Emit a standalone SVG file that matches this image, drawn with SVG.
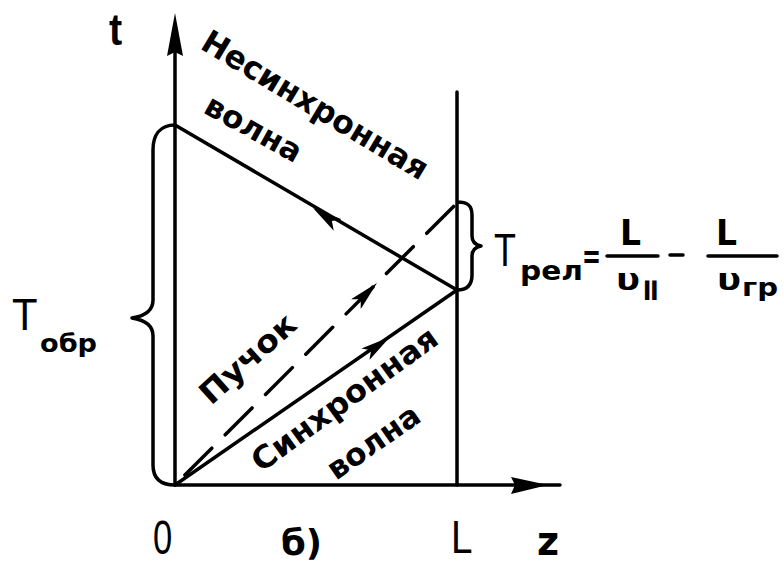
<svg xmlns="http://www.w3.org/2000/svg" width="784" height="566" viewBox="0 0 784 566">
<style>
.ln{stroke:#000;stroke-width:3.5;fill:none;stroke-linecap:round}
.br{stroke:#000;stroke-width:3.5;fill:none;stroke-linejoin:round}
.lb{font-family:"DejaVu Sans","Liberation Sans",sans-serif;font-weight:bold;fill:#000}
.ls{font-family:"Liberation Sans","DejaVu Sans",sans-serif;fill:#000}
</style>
<defs>
<marker id="ah" viewBox="0 0 30 14" refX="30" refY="7" markerWidth="30" markerHeight="14" markerUnits="userSpaceOnUse" orient="auto">
<path d="M0,0 L30,7 L0,14 L7,7 z" fill="#000"/>
</marker>
</defs>
<rect width="784" height="566" fill="#fff"/>
<g id="connectors">
<line class="ln" x1="175" y1="485" x2="175" y2="30"/>
<path d="M175,13 L183,56 L175,52 L167,56 z" fill="#000"/>
<line class="ln" x1="175" y1="485" x2="560" y2="485"/>
<path d="M548,485 L511,477 L515,485 L511,494 z" fill="#000"/>
<line class="ln" x1="457" y1="92" x2="457" y2="485" stroke-width="2.5"/>
<line class="ln" x1="175" y1="125" x2="457" y2="290"/>
<line class="ln" x1="175" y1="485" x2="457" y2="290"/>
<line class="ln" x1="175" y1="485" x2="455" y2="205" stroke-dasharray="38 19" stroke-dashoffset="-14" stroke-linecap="butt"/>
<line x1="342" y1="228" x2="313" y2="208" stroke="none" marker-end="url(#ah)"/>
<line x1="360" y1="358" x2="390" y2="337" stroke="none" marker-end="url(#ah)"/>
<line x1="350" y1="310" x2="377" y2="283" stroke="none" marker-end="url(#ah)"/>
<path class="br" d="M175,125 C160,125 153,135 153,150 L153,300 C153,310 145,316 132,318 C145,320 153,326 153,336 L153,465 C153,478 160,485 175,485"/>
<path class="br" d="M457,202 C467,202 472,205 472,215 L472,236 C472,242 476,245 481,246 C476,247 472,250 472,256 L472,275 C472,285 467,290 457,290"/>
</g>
<g id="label-t"><text class="ls" font-size="44" font-weight="bold" transform="translate(109,45) scale(0.9,1)">t</text></g>
<g id="label-nonsync">
<text class="lb" font-size="32" transform="translate(199,48) rotate(31)" textLength="258" lengthAdjust="spacingAndGlyphs">Несинхронная</text>
<text class="lb" font-size="31" transform="translate(202,112) rotate(29)" textLength="106" lengthAdjust="spacingAndGlyphs">волна</text>
</g>
<g id="label-beam">
<text class="lb" font-size="31" transform="translate(211,406) rotate(-42)" textLength="118" lengthAdjust="spacingAndGlyphs">Пучок</text>
</g>
<g id="label-sync">
<text class="lb" font-size="31" transform="translate(261,473) rotate(-36)" textLength="222" lengthAdjust="spacingAndGlyphs">Синхронная</text>
<text class="lb" font-size="31" transform="translate(336,481) rotate(-35)" textLength="106" lengthAdjust="spacingAndGlyphs">волна</text>
</g>
<g id="label-Tobr">
<text class="ls" font-size="44" transform="translate(12,330) scale(0.95,1)">T</text>
<text class="lb" x="40" y="352" font-size="24" textLength="57" lengthAdjust="spacingAndGlyphs">обр</text>
</g>
<g id="label-Trel">
<text class="ls" font-size="46" transform="translate(494,266) scale(0.78,1)">T</text>
<text class="lb" x="520" y="280" font-size="26" textLength="63" lengthAdjust="spacingAndGlyphs">рел</text>
<text class="lb" x="582" y="268" font-size="34" textLength="19" lengthAdjust="spacingAndGlyphs">=</text>
<line class="ln" x1="607" y1="256" x2="658" y2="256" stroke-width="3"/>
<text class="lb" x="620" y="245" font-size="36" textLength="21" lengthAdjust="spacingAndGlyphs">L</text>
<text class="lb" x="616" y="290" font-size="30" textLength="24" lengthAdjust="spacingAndGlyphs">υ</text>
<text class="lb" x="641" y="296" font-size="20" textLength="19" lengthAdjust="spacingAndGlyphs">∥</text>
<line class="ln" x1="670" y1="255" x2="683" y2="255" stroke-width="3"/>
<line class="ln" x1="708" y1="256" x2="777" y2="256" stroke-width="3"/>
<text class="lb" x="716" y="245" font-size="36" textLength="21" lengthAdjust="spacingAndGlyphs">L</text>
<text class="lb" x="717" y="290" font-size="30" textLength="24" lengthAdjust="spacingAndGlyphs">υ</text>
<text class="lb" x="742" y="296" font-size="24" textLength="36" lengthAdjust="spacingAndGlyphs">гр</text>
</g>
<g id="label-axis">
<text class="ls" font-size="48" transform="translate(153,554) scale(0.72,1)">0</text>
<text class="lb" x="281" y="555" font-size="35" textLength="41" lengthAdjust="spacingAndGlyphs">б)</text>
<text class="ls" font-size="46" transform="translate(451,553) scale(0.84,1)">L</text>
<text class="lb" x="537" y="555" font-size="40" textLength="22" lengthAdjust="spacingAndGlyphs">z</text>
</g>
</svg>
